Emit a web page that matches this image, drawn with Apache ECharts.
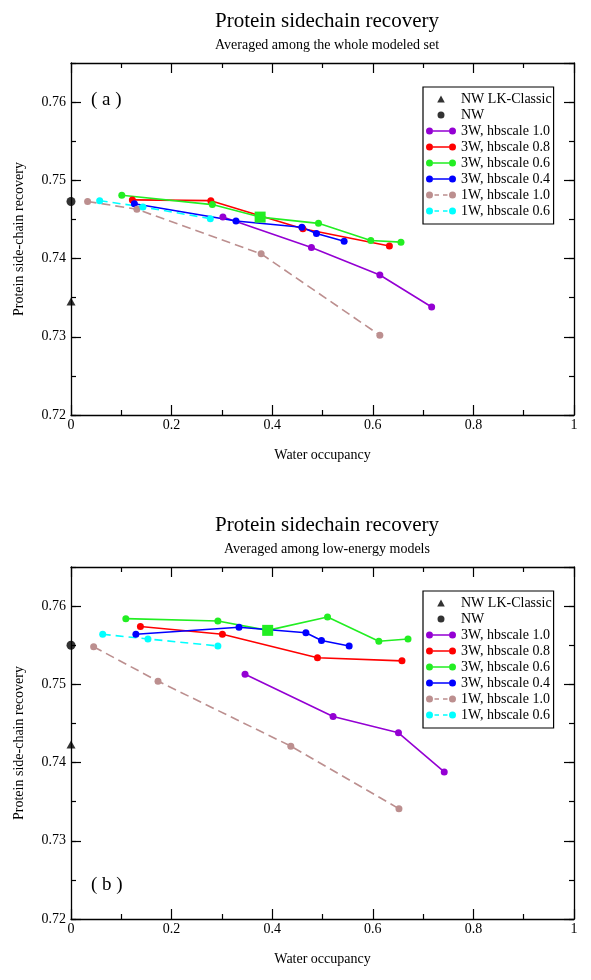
<!DOCTYPE html>
<html>
<head>
<meta charset="utf-8">
<script src="https://cdn.jsdelivr.net/npm/echarts@6/dist/echarts.min.js"></script>
<style>
html,body{margin:0;padding:0;background:#fff;}
#chart{width:591px;height:980px;}
</style>
</head>
<body>
<div id="chart"></div>
<script>
// ---------- DATA ----------
const seriesNames = ['NW LK-Classic','NW','3W, hbscale 1.0','3W, hbscale 0.8','3W, hbscale 0.6','3W, hbscale 0.4','1W, hbscale 1.0','1W, hbscale 0.6'];
const xTickLabels = ['0','0.2','0.4','0.6','0.8','1'];
const yTickLabels = ['0.72','0.73','0.74','0.75','0.76'];

// (a) whole modeled set
const aNWLK = [[0, 0.7345]];
const aNW = [[0, 0.7473]];
const a3W10 = [[0.302,0.7453],[0.478,0.7414],[0.614,0.7379],[0.717,0.7338]];
const a3W08 = [[0.122,0.7475],[0.278,0.7474],[0.461,0.7438],[0.633,0.7416]];
const a3W06 = [[0.101,0.7481],[0.281,0.7469],[0.376,0.7453],[0.492,0.7445],[0.596,0.7423],[0.656,0.7421]];
const a3W04 = [[0.126,0.7470],[0.328,0.7448],[0.459,0.7440],[0.488,0.7432],[0.543,0.7422]];
const a1W10 = [[0.033,0.7473],[0.131,0.7463],[0.378,0.7406],[0.614,0.7302]];
const a1W06 = [[0.057,0.7474],[0.143,0.7466],[0.277,0.7451]];
const aSquareIndex = 2; // highlighted point of 3W, hbscale 0.6

// (b) low-energy models
const bNWLK = [[0, 0.7423]];
const bNW = [[0, 0.7550]];
const b3W10 = [[0.346,0.7513],[0.521,0.7459],[0.651,0.7438],[0.742,0.7388]];
const b3W08 = [[0.138,0.7574],[0.301,0.7564],[0.490,0.7534],[0.658,0.7530]];
const b3W06 = [[0.109,0.7584],[0.292,0.7581],[0.391,0.7569],[0.510,0.7586],[0.612,0.7555],[0.670,0.7558]];
const b3W04 = [[0.129,0.7564],[0.334,0.7573],[0.467,0.7566],[0.498,0.7556],[0.553,0.7549]];
const b1W10 = [[0.045,0.7548],[0.173,0.7504],[0.437,0.7421],[0.652,0.7341]];
const b1W06 = [[0.063,0.7564],[0.153,0.7558],[0.292,0.7549]];
const bSquareIndex = 2;

// ---------- STYLE ----------
const FONT = 'Liberation Serif';
const colors = {
  '3W, hbscale 1.0': '#9400d3',
  '3W, hbscale 0.8': '#ff0000',
  '3W, hbscale 0.6': '#22ee22',
  '3W, hbscale 0.4': '#0000ff',
  '1W, hbscale 1.0': '#bc8f8f',
  '1W, hbscale 0.6': '#00ffff'
};
const dashed = {'1W, hbscale 1.0': [9,5], '1W, hbscale 0.6': [8,5]};

const ICON_SOLID = 'path://M0,3.5A3.5,3.5,0,1,1,7,3.5A3.5,3.5,0,1,1,0,3.5Z M7,2.75L23,2.75L23,4.25L7,4.25Z M23,3.5A3.5,3.5,0,1,1,30,3.5A3.5,3.5,0,1,1,23,3.5Z';
const ICON_DASH = 'path://M0,3.5A3.5,3.5,0,1,1,7,3.5A3.5,3.5,0,1,1,0,3.5Z M8.5,2.75L13,2.75L13,4.25L8.5,4.25Z M17,2.75L21.5,2.75L21.5,4.25L17,4.25Z M23,3.5A3.5,3.5,0,1,1,30,3.5A3.5,3.5,0,1,1,23,3.5Z';
const ICON_TRI = 'path://M0,0L0.01,0L0.01,0.01Z M30,7L29.99,7L29.99,6.99Z M15,0L18.8,7L11.2,7Z';
const ICON_CIR = 'path://M0,0L0.01,0L0.01,0.01Z M30,7L29.99,7L29.99,6.99Z M11.5,3.5A3.5,3.5,0,1,1,18.5,3.5A3.5,3.5,0,1,1,11.5,3.5Z';

function legendData(){
  return seriesNames.map(function(n,i){
    let icon = i===0 ? ICON_TRI : (i===1 ? ICON_CIR : (dashed[n] ? ICON_DASH : ICON_SOLID));
    return {name:n, icon:icon};
  });
}

const grids = [
  {left:71, top:63, width:503, height:352},
  {left:71, top:567, width:503, height:352}
];

function xLabel(v){
  const i = Math.round(v/0.2);
  return (Math.abs(v - i*0.2) < 1e-6 && xTickLabels[i] !== undefined) ? xTickLabels[i] : '';
}
function yLabel(v){
  const i = Math.round((v-0.72)/0.01);
  return (Math.abs(v - (0.72 + i*0.01)) < 1e-6 && yTickLabels[i] !== undefined) ? yTickLabels[i] : '';
}

const axisLine = {show:true, onZero:false, lineStyle:{color:'#000', width:1.3}};
const xAxes = [], yAxes = [];
[0,1].forEach(function(g){
  xAxes.push({
    gridIndex:g, type:'value', min:0, max:1, interval:0.2, position:'bottom',
    name:'Water occupancy', nameLocation:'middle', nameGap:33,
    nameTextStyle:{fontFamily:FONT, fontSize:14, color:'#000'},
    axisLine:axisLine,
    axisTick:{show:true, inside:true, length:10, lineStyle:{color:'#000', width:1.2}},
    minorTick:{show:true, splitNumber:2, length:5, lineStyle:{color:'#000', width:1.2}},
    axisLabel:{margin:3, fontFamily:FONT, fontSize:14, color:'#000', formatter:xLabel, showMinLabel:true, showMaxLabel:true},
    splitLine:{show:false}
  });
  xAxes.push({
    gridIndex:g, type:'value', min:0, max:1, interval:0.2, position:'top',
    axisLine:axisLine,
    axisTick:{show:true, inside:true, length:10, lineStyle:{color:'#000', width:1.2}},
    minorTick:{show:true, splitNumber:2, length:5, lineStyle:{color:'#000', width:1.2}},
    axisLabel:{show:false}, splitLine:{show:false}
  });
  ['left','right'].forEach(function(pos){
    yAxes.push({
      gridIndex:g, type:'value', min:0.72, max:0.765, interval:0.01, position:pos,
      name: pos==='left' ? 'Protein side-chain recovery' : '',
      nameLocation:'middle', nameGap:45,
      nameTextStyle:{fontFamily:FONT, fontSize:14, color:'#000'},
      axisLine:axisLine,
      axisTick:{show:true, inside:true, length:10, lineStyle:{color:'#000', width:1.2}},
      axisLabel:{show: pos==='left', margin:5, fontFamily:FONT, fontSize:14, color:'#000', formatter:yLabel, showMaxLabel:false},
      splitLine:{show:false}
    });
    yAxes.push({
      gridIndex:g, type:'value', min:0.72, max:0.765, interval:0.005, position:pos,
      axisLine:{show:false, onZero:false},
      axisTick:{show:true, inside:true, length:5, lineStyle:{color:'#000', width:1.2}},
      axisLabel:{show:false}, splitLine:{show:false}
    });
  });
});

function buildSeries(g, sets, squareIdx){
  const xi = g*2, yi = g*4;
  const out = [];
  out.push({name:seriesNames[0], type:'scatter', xAxisIndex:xi, yAxisIndex:yi, data:sets[0],
    symbol:'triangle', symbolSize:[9,8], itemStyle:{color:'#000'}, clip:false, z:5});
  out.push({name:seriesNames[1], type:'scatter', xAxisIndex:xi, yAxisIndex:yi, data:sets[1],
    symbol:'circle', symbolSize:9, itemStyle:{color:'#000'}, clip:false, z:5});
  for (let k=2;k<seriesNames.length;k++){
    const n = seriesNames[k];
    let data = sets[k].map(function(p){return p;});
    if (n === '3W, hbscale 0.6') {
      data = sets[k].map(function(p,i){
        return i===squareIdx ? {value:p, symbol:'rect', symbolSize:11} : p;
      });
    }
    out.push({
      name:n, type:'line', xAxisIndex:xi, yAxisIndex:yi, data:data,
      symbol:'circle', symbolSize:7, showSymbol:true, showAllSymbol:true, clip:false,
      itemStyle:{color:colors[n], borderWidth:0},
      lineStyle:{color:colors[n], width:1.6, type: dashed[n] ? dashed[n] : 'solid'},
      emphasis:{disabled:true},
      z: 3
    });
  }
  return out;
}

const series = [].concat(
  buildSeries(0, [aNWLK,aNW,a3W10,a3W08,a3W06,a3W04,a1W10,a1W06], aSquareIndex),
  buildSeries(1, [bNWLK,bNW,b3W10,b3W08,b3W06,b3W04,b1W10,b1W06], bSquareIndex)
);

function legendAt(top){
  return {
    orient:'vertical', left:423, top:top, padding:[5,2,6,3],
    itemWidth:30, itemHeight:7, itemGap:2, selectedMode:false,
    borderColor:'#000', borderWidth:1.2, backgroundColor:'#fff',
    itemStyle:{borderWidth:0},
    textStyle:{fontFamily:FONT, fontSize:14, color:'#000'},
    data:legendData()
  };
}

const titleStyle = {fontFamily:FONT, fontSize:21, fontWeight:'normal', color:'#000'};
const subStyle = {fontFamily:FONT, fontSize:14, fontWeight:'normal', color:'#000'};
const panelStyle = {fontFamily:FONT, fontSize:19, fontWeight:'normal', color:'#000'};

const option = {
  animation:false,
  backgroundColor:'#fff',
  title:[
    {text:'Protein sidechain recovery', left:322, top:6, textAlign:'center', textStyle:titleStyle},
    {text:'Averaged among the whole modeled set', left:322, top:33, textAlign:'center', textStyle:subStyle},
    {text:'( a )', left:86, top:86, textStyle:panelStyle},
    {text:'Protein sidechain recovery', left:322, top:510, textAlign:'center', textStyle:titleStyle},
    {text:'Averaged among low-energy models', left:322, top:537, textAlign:'center', textStyle:subStyle},
    {text:'( b )', left:86, top:871, textStyle:panelStyle}
  ],
  legend:[legendAt(87), legendAt(591)],
  grid:grids,
  xAxis:xAxes,
  yAxis:yAxes,
  series:series
};

const chart = echarts.init(document.getElementById('chart'), null, {renderer:'canvas'});
chart.setOption(option);
</script>
</body>
</html>
